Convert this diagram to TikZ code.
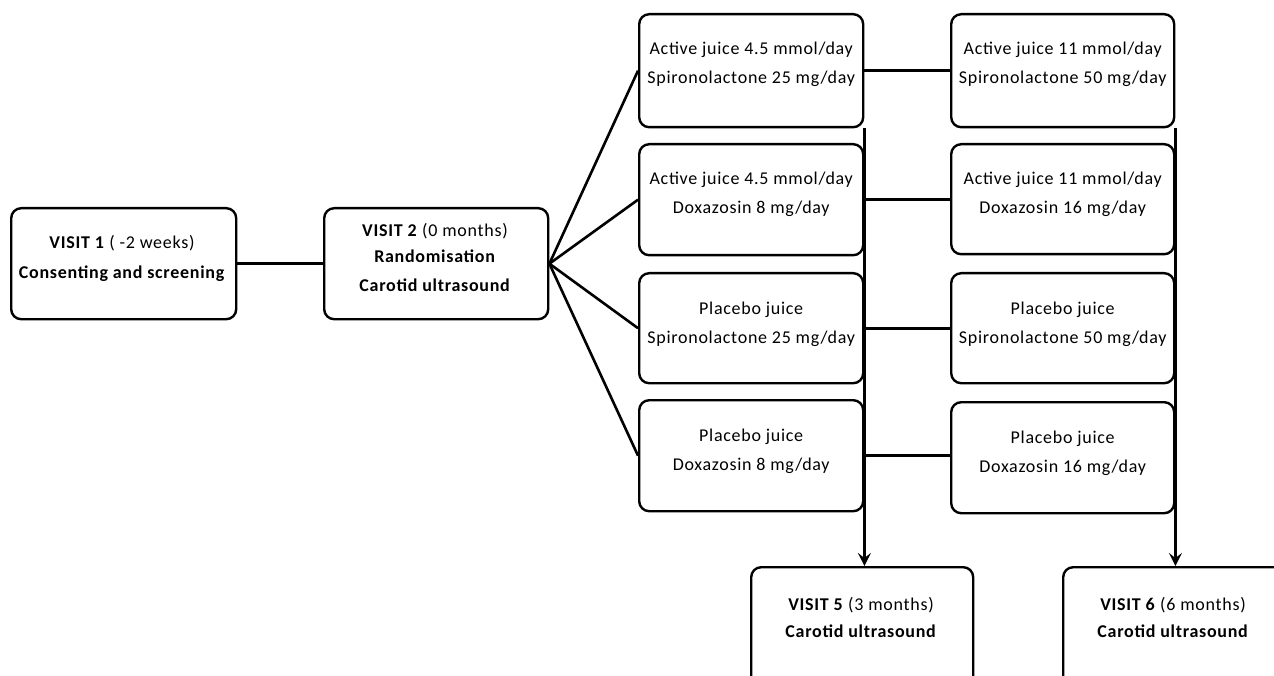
\documentclass[tikz,border=0pt]{standalone}
\usepackage{fontspec}
\setmainfont{Carlito}[LetterSpace=4]
\usetikzlibrary{arrows.meta}
\begin{document}
\begin{tikzpicture}[x=1pt,y=-1pt,
  box/.style={draw, line width=2.4pt, rounded corners=10pt, inner sep=0pt, anchor=north west},
  txt/.style={font=\fontsize{18}{20}\selectfont, inner sep=0pt, anchor=base},
  ln/.style={line width=2.6pt},
  hln/.style={line width=3pt},
  arr/.style={line width=2.2pt, -{Stealth[length=13pt,width=13pt,inset=5pt]}}]
\clip (0,0) rectangle (1274,676);
\useasboundingbox (0,0) rectangle (1274,676);
% visits
\node[box, minimum width=225pt, minimum height=111pt] (v1) at (10,207) {};
\node[box, minimum width=224pt, minimum height=111pt] (v2) at (323,207) {};
\node[box, minimum width=222pt, minimum height=140pt] (v5) at (750,566) {};
\node[box, minimum width=222pt, minimum height=140pt] (v6) at (1062,566) {};
% column 1
\node[box, minimum width=224pt, minimum height=113pt] (c11) at (638,13) {};
\node[box, minimum width=224pt, minimum height=111pt] (c12) at (638,143) {};
\node[box, minimum width=224pt, minimum height=110pt] (c13) at (638,272) {};
\node[box, minimum width=224pt, minimum height=111pt] (c14) at (638,399) {};
% column 2
\node[box, minimum width=223pt, minimum height=113pt] (c21) at (950,13) {};
\node[box, minimum width=223pt, minimum height=110pt] (c22) at (950,143) {};
\node[box, minimum width=223pt, minimum height=110pt] (c23) at (950,272) {};
\node[box, minimum width=223pt, minimum height=111pt] (c24) at (950,401) {};
% texts
\node[txt] (t11) at (122,249) {\textbf{VISIT 1} ( -2 weeks)};
\node[txt] (t12) at (122,279) {\textbf{Consenting and screening}};
\node[txt] (t21) at (435,237) {\textbf{VISIT 2} (0 months)};
\node[txt] (t22) at (435,263) {\textbf{Randomisation}};
\node[txt] (t23) at (435,292) {\textbf{Carotid ultrasound}};
\node[txt] (t51) at (861,610) {\textbf{VISIT 5} (3 months)};
\node[txt] (t52) at (861,637) {\textbf{Carotid ultrasound}};
\node[txt] (t61) at (1173,610) {\textbf{VISIT 6} (6 months)};
\node[txt] (t62) at (1173,637) {\textbf{Carotid ultrasound}};
\foreach \n/\a/\b in {c11/Active juice 4.5 mmol\slash day/Spironolactone 25 mg\slash day,
                      c12/Active juice 4.5 mmol\slash day/Doxazosin 8 mg\slash day,
                      c13/Placebo juice/Spironolactone 25 mg\slash day,
                      c14/Placebo juice/Doxazosin 8 mg\slash day,
                      c21/Active juice 11 mmol\slash day/Spironolactone 50 mg\slash day,
                      c22/Active juice 11 mmol\slash day/Doxazosin 16 mg\slash day,
                      c23/Placebo juice/Spironolactone 50 mg\slash day,
                      c24/Placebo juice/Doxazosin 16 mg\slash day}{
  \node[txt] (\n a) at ([yshift=-42pt]\n.north) {\a};
  \node[txt] (\n b) at ([yshift=-71pt]\n.north) {\b};
}
% connectors
\draw[ln] (v1.east) -- (v2.west);
\foreach \i in {1,2,3,4}{
  \draw[ln] (v2.east) -- (c1\i.west);
  \draw[hln] (c1\i.east) -- (c1\i.east -| c2\i.west);
}
\draw[arr] (c11.south east) -- (c11.east |- v5.north);
\draw[arr] (c21.south east) -- (c21.east |- v6.north);
\end{tikzpicture}
\end{document}
